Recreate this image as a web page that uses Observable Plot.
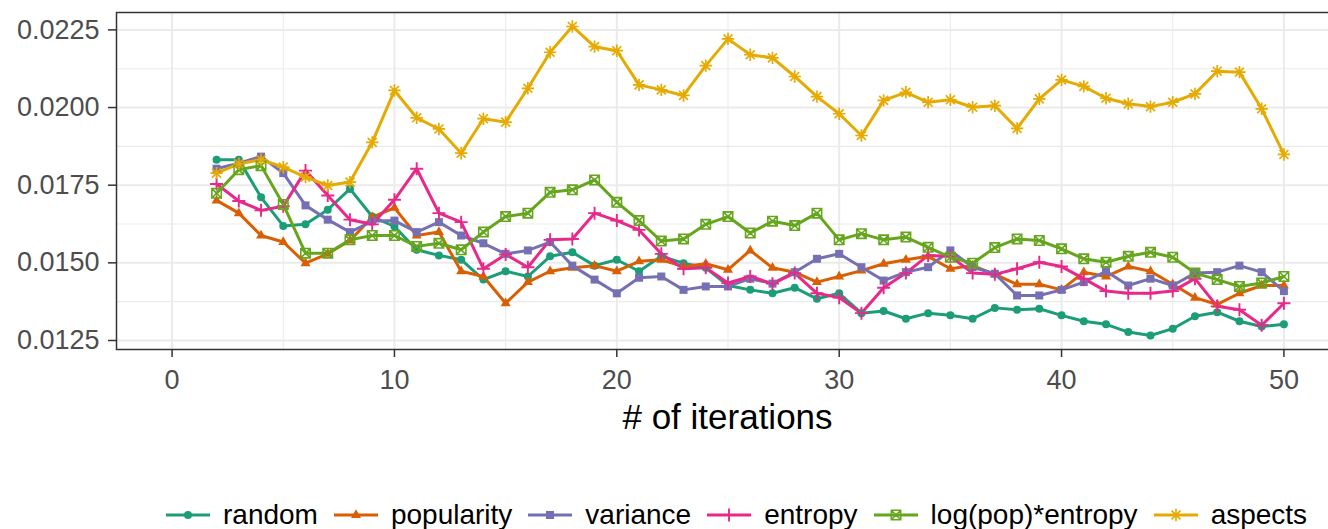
<!DOCTYPE html>
<html><head><meta charset="utf-8">
<script src="https://cdn.jsdelivr.net/npm/d3@7"></script>
<script src="https://cdn.jsdelivr.net/npm/@observablehq/plot@0.6"></script>
<style>
html,body{margin:0;padding:0;background:#fff;overflow:hidden;width:1328px;height:529px;position:relative;}
#chart svg{display:block;}
#legend{position:absolute;left:166px;top:499px;height:32px;line-height:32px;display:flex;align-items:center;font-family:"Liberation Sans",Arial,Helvetica,sans-serif;font-size:28px;color:#000;white-space:nowrap;}
#legend .item{display:flex;align-items:center;margin-right:16px;}
#legend svg{display:block;margin-right:13px;}
</style></head>
<body>
<div id="chart"></div>
<div id="legend"></div>
<script>
const iterations = [2,3,4,5,6,7,8,9,10,11,12,13,14,15,16,17,18,19,20,21,22,23,24,25,26,27,28,29,30,31,32,33,34,35,36,37,38,39,40,41,42,43,44,45,46,47,48,49,50];
const seriesNames = ["random","popularity","variance","entropy","log(pop)*entropy","aspects"];
const seriesColors = ["#1b9e77","#d95f02","#7570b3","#e7298a","#66a61e","#e6ab02"];
const random = [0.01832,0.01832,0.01711,0.01619,0.01624,0.01671,0.01738,0.01649,0.01617,0.01542,0.01524,0.01510,0.01446,0.01473,0.01456,0.01521,0.01534,0.01491,0.01510,0.01473,0.01521,0.01499,0.01484,0.01427,0.01413,0.01402,0.01420,0.01384,0.01402,0.01338,0.01345,0.01320,0.01338,0.01331,0.01320,0.01355,0.01349,0.01352,0.01331,0.01312,0.01302,0.01277,0.01266,0.01288,0.01328,0.01341,0.01312,0.01295,0.01302];
const popularity = [0.01701,0.01660,0.01588,0.01567,0.01499,0.01529,0.01572,0.01647,0.01677,0.01588,0.01599,0.01473,0.01456,0.01370,0.01438,0.01473,0.01484,0.01491,0.01473,0.01505,0.01510,0.01488,0.01497,0.01478,0.01540,0.01484,0.01470,0.01438,0.01456,0.01475,0.01497,0.01510,0.01521,0.01481,0.01491,0.01463,0.01431,0.01431,0.01413,0.01470,0.01456,0.01488,0.01473,0.01431,0.01388,0.01366,0.01402,0.01427,0.01427];
const variance = [0.01803,0.01821,0.01842,0.01789,0.01685,0.01639,0.01599,0.01634,0.01636,0.01599,0.01631,0.01588,0.01563,0.01529,0.01540,0.01567,0.01491,0.01446,0.01402,0.01452,0.01456,0.01413,0.01424,0.01424,0.01449,0.01433,0.01470,0.01513,0.01529,0.01486,0.01443,0.01470,0.01486,0.01540,0.01486,0.01465,0.01395,0.01395,0.01413,0.01438,0.01473,0.01427,0.01449,0.01427,0.01467,0.01470,0.01491,0.01470,0.01409];
const entropy = [0.01754,0.01699,0.01669,0.01682,0.01797,0.01717,0.01639,0.01624,0.01703,0.01803,0.01660,0.01631,0.01481,0.01527,0.01486,0.01574,0.01577,0.01660,0.01636,0.01606,0.01529,0.01481,0.01484,0.01435,0.01456,0.01433,0.01467,0.01402,0.01388,0.01338,0.01420,0.01467,0.01524,0.01521,0.01467,0.01463,0.01481,0.01502,0.01488,0.01449,0.01409,0.01402,0.01402,0.01409,0.01449,0.01360,0.01349,0.01299,0.01370];
const logPopEntropy = [0.01724,0.01800,0.01813,0.01688,0.01531,0.01531,0.01574,0.01588,0.01588,0.01553,0.01563,0.01542,0.01599,0.01649,0.01660,0.01727,0.01735,0.01767,0.01695,0.01636,0.01570,0.01577,0.01624,0.01649,0.01596,0.01634,0.01620,0.01660,0.01574,0.01594,0.01574,0.01583,0.01550,0.01518,0.01499,0.01549,0.01577,0.01572,0.01545,0.01513,0.01502,0.01521,0.01534,0.01518,0.01467,0.01446,0.01424,0.01435,0.01456];
const aspects = [0.01789,0.01819,0.01832,0.01808,0.01776,0.01749,0.01760,0.01888,0.02055,0.01967,0.01931,0.01853,0.01964,0.01953,0.02062,0.02178,0.02261,0.02196,0.02183,0.02073,0.02057,0.02039,0.02135,0.02221,0.02170,0.02160,0.02100,0.02035,0.01980,0.01910,0.02023,0.02049,0.02017,0.02025,0.02001,0.02006,0.01933,0.02028,0.02089,0.02068,0.02030,0.02012,0.02003,0.02017,0.02044,0.02117,0.02114,0.01996,0.01849];
const xTicks = [0,10,20,30,40,50];
const xMinor = [5,15,25,35,45];
const yTicks = [0.0125,0.0150,0.0175,0.0200,0.0225];
const yMinor = [0.01375,0.01625,0.01875,0.02125];
const xLabel = "# of iterations";

const seriesValues = [random, popularity, variance, entropy, logPopEntropy, aspects];
const rows = [];
seriesNames.forEach((name, i) => {
  iterations.forEach((it, j) => rows.push({series: name, iter: it, value: seriesValues[i][j]}));
});

// custom symbols (ggplot shapes 16,17,15,3,7,8)
const rad = s => Math.sqrt(s / Math.PI);
const symTriangle = {draw(c, s){ const r = rad(s); c.moveTo(0, -r*1.15); c.lineTo(r, r*0.6); c.lineTo(-r, r*0.6); c.closePath(); }};
const symSquare = {draw(c, s){ const r = rad(s); c.rect(-r, -r, 2*r, 2*r); }};
const symPlus = {draw(c, s){ const r = rad(s); c.moveTo(-r,0); c.lineTo(r,0); c.moveTo(0,-r); c.lineTo(0,r); }};
const symSqCross = {draw(c, s){ const r = rad(s); c.moveTo(-r,-r); c.lineTo(r,-r); c.lineTo(r,r); c.lineTo(-r,r); c.closePath(); c.moveTo(-r,-r); c.lineTo(r,r); c.moveTo(r,-r); c.lineTo(-r,r); }};
const symAsterisk = {draw(c, s){ const r = rad(s); const d = r*0.72; c.moveTo(-r,0); c.lineTo(r,0); c.moveTo(0,-r); c.lineTo(0,r); c.moveTo(-d,-d); c.lineTo(d,d); c.moveTo(d,-d); c.lineTo(-d,d); }};
const styles = [
  {symbol: "circle", d3sym: d3.symbolCircle, r: 4, filled: true},
  {symbol: symTriangle, d3sym: symTriangle, r: 5, filled: true},
  {symbol: symSquare, d3sym: symSquare, r: 4, filled: true},
  {symbol: symPlus, d3sym: symPlus, r: 6.5, filled: false, sw: 1.9},
  {symbol: symSqCross, d3sym: symSqCross, r: 4.7, filled: false, sw: 1.6},
  {symbol: symAsterisk, d3sym: symAsterisk, r: 6.2, filled: false, sw: 1.7}
];

const dotMarks = seriesNames.map((name, i) => {
  const st = styles[i];
  return Plot.dot(rows.filter(d => d.series === name), {
    x: "iter", y: "value", symbol: st.symbol, r: st.r,
    fill: st.filled ? "series" : "none",
    stroke: st.filled ? "none" : "series",
    strokeWidth: st.sw || 0
  });
});

const font = "Liberation Sans, Arial, Helvetica, sans-serif";
const chart = Plot.plot({
  width: 1328, height: 490,
  marginLeft: 116, marginRight: -6, marginTop: 12, marginBottom: 141,
  style: {fontFamily: font, background: "#fff", overflow: "visible"},
  x: {domain: [-2.5, 52.5], range: [116, 1339]},
  y: {domain: [0.01221, 0.02306]},
  color: {domain: seriesNames, range: seriesColors},
  marks: [
    Plot.ruleX(xMinor, {stroke: "#ebebeb", strokeWidth: 1.1}),
    Plot.ruleY(yMinor, {stroke: "#ebebeb", strokeWidth: 1.1}),
    Plot.ruleX(xTicks, {stroke: "#ebebeb", strokeWidth: 2}),
    Plot.ruleY(yTicks, {stroke: "#ebebeb", strokeWidth: 2}),
    Plot.line(rows, {x: "iter", y: "value", z: "series", stroke: "series", strokeWidth: 3}),
    ...dotMarks,
    Plot.frame({stroke: "#333333", strokeWidth: 1.5}),
    Plot.axisY({ticks: yTicks, tickFormat: d3.format(".4f"), tickSize: 8, tickPadding: 9, fontSize: 27, stroke: "#333333", strokeWidth: 1.5, fill: "#4d4d4d", label: null}),
    Plot.axisX({ticks: xTicks, tickFormat: d3.format("d"), tickSize: 8, tickPadding: 12, fontSize: 27, stroke: "#333333", strokeWidth: 1.5, fill: "#4d4d4d", label: null}),
    Plot.text([xLabel], {frameAnchor: "bottom", dy: 79, dx: 2, fontSize: 35, fill: "#000"})
  ]
});
document.getElementById("chart").appendChild(chart);

// legend
const legend = document.getElementById("legend");
seriesNames.forEach((name, i) => {
  const st = styles[i];
  const item = document.createElement("div");
  item.className = "item";
  const svg = d3.create("svg").attr("width", 44).attr("height", 24);
  svg.append("line").attr("x1", 0).attr("x2", 44).attr("y1", 12).attr("y2", 12)
    .attr("stroke", seriesColors[i]).attr("stroke-width", 3);
  svg.append("path").attr("transform", "translate(22,12)")
    .attr("d", d3.symbol(st.d3sym, Math.PI * st.r * st.r)())
    .attr("fill", st.filled ? seriesColors[i] : "none")
    .attr("stroke", st.filled ? "none" : seriesColors[i])
    .attr("stroke-width", st.sw || 0);
  item.appendChild(svg.node());
  const span = document.createElement("span");
  span.textContent = name;
  item.appendChild(span);
  legend.appendChild(item);
});
</script>
</body></html>
